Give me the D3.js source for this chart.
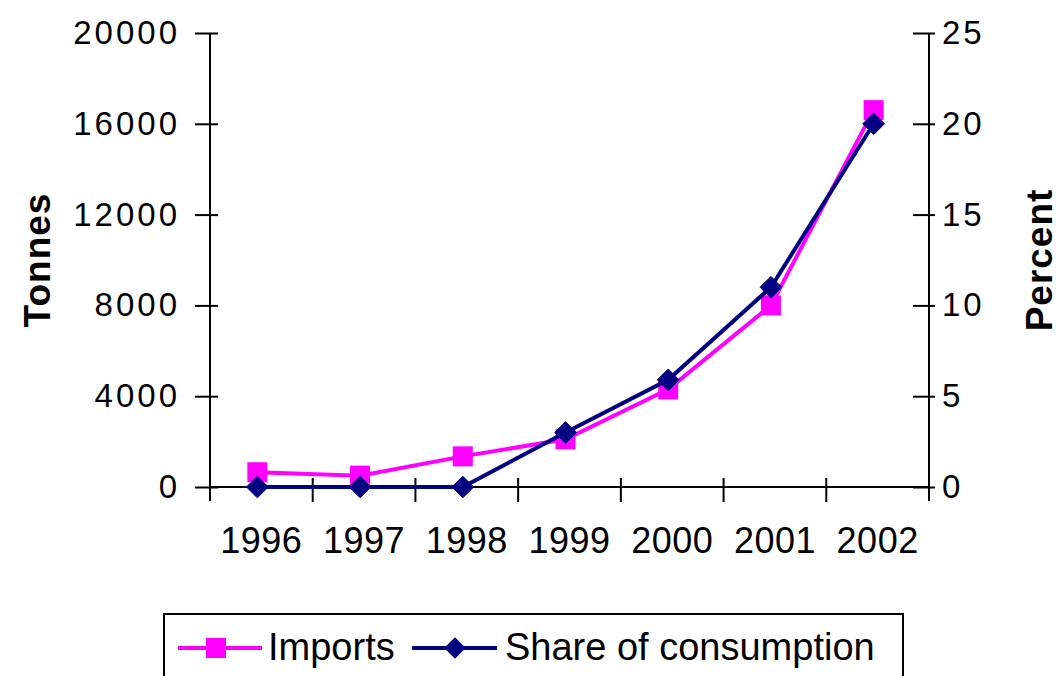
<!DOCTYPE html>
<html>
<head>
<meta charset="utf-8">
<script src="https://cdn.jsdelivr.net/npm/d3@7"></script>
<style>
  body { margin: 0; background: #fff; }
  svg text { font-family: "Liberation Sans", Arial, sans-serif; fill: #000; }
  .axis .tick text { font-size: 33px; letter-spacing: 3px; }
  .axis-title { font-size: 37px; font-weight: bold; letter-spacing: 1px; }
  .legend text { font-size: 38px; }
</style>
</head>
<body>
<svg id="chart" width="1059" height="676"></svg>
<script>
var years = ['1996', '1997', '1998', '1999', '2000', '2001', '2002'];
var imports = [650, 500, 1350, 2100, 4300, 8000, 16600];
var shareOfConsumption = [0, 0, 0, 3.0, 5.9, 11.0, 20.0];
var tonnesTicks = [0, 4000, 8000, 12000, 16000, 20000];
var percentTicks = [0, 5, 10, 15, 20, 25];

var plot = { left: 210, right: 929, top: 33, bottom: 487 };

var svg = d3.select('#chart');

var x = d3.scaleBand().domain(years).range([plot.left, plot.right]);
var yLeft = d3.scaleLinear().domain([0, 20000]).range([plot.bottom, plot.top]);
var yRight = d3.scaleLinear().domain([0, 25]).range([plot.bottom, plot.top]);

// Left axis, ticks cross the line
var leftAxis = svg.append('g')
  .attr('class', 'axis')
  .attr('transform', 'translate(' + plot.left + ',0)')
  .call(d3.axisLeft(yLeft).tickValues(tonnesTicks).tickSize(15).tickPadding(15).tickFormat(d3.format('d')));

// Right axis
var rightAxis = svg.append('g')
  .attr('class', 'axis')
  .attr('transform', 'translate(' + plot.right + ',0)')
  .call(d3.axisRight(yRight).tickValues(percentTicks).tickSize(6));

leftAxis.selectAll('.tick line').attr('x1', 8).attr('x2', -15);
rightAxis.selectAll('.tick line').attr('x1', -16).attr('x2', 6);
rightAxis.selectAll('.tick text').attr('x', 13);

svg.selectAll('.axis .domain').remove();
svg.selectAll('.axis line').attr('stroke', '#000').attr('stroke-width', 2);

// Vertical axis lines run a bit past the baseline
[plot.left, plot.right].forEach(function(px) {
  svg.append('line')
    .attr('x1', px).attr('x2', px)
    .attr('y1', plot.top).attr('y2', plot.bottom + 14)
    .attr('stroke', '#000').attr('stroke-width', 2);
});

// Bottom axis: line + ticks at category boundaries
var bottom = svg.append('g').attr('class', 'x-axis');
bottom.append('line')
  .attr('x1', plot.left).attr('x2', plot.right)
  .attr('y1', yLeft(0)).attr('y2', yLeft(0))
  .attr('stroke', '#000').attr('stroke-width', 2);

var boundaries = years.map(function(d) { return x(d); });
bottom.selectAll('line.boundary')
  .data(boundaries.slice(1))
  .enter().append('line')
  .attr('class', 'boundary')
  .attr('x1', function(d) { return d; }).attr('x2', function(d) { return d; })
  .attr('y1', yLeft(0) - 9).attr('y2', yLeft(0) + 15)
  .attr('stroke', '#000').attr('stroke-width', 2);

bottom.selectAll('text')
  .data(years)
  .enter().append('text')
  .attr('x', function(d) { return x(d) + x.bandwidth() / 2; })
  .attr('y', 553)
  .attr('text-anchor', 'middle')
  .style('font-size', '36px')
  .style('letter-spacing', '0.5px')
  .text(function(d) { return d; });

// Axis titles
svg.append('text')
  .attr('class', 'axis-title')
  .attr('transform', 'translate(50,260) rotate(-90)')
  .attr('text-anchor', 'middle')
  .text('Tonnes');
svg.append('text')
  .attr('class', 'axis-title')
  .attr('transform', 'translate(1052,260) rotate(-90)')
  .attr('text-anchor', 'middle')
  .text('Percent');

// Series lines
var cx = function(i) { return x(years[i]) + x.bandwidth() / 2 - 4; };

var importsLine = d3.line()
  .x(function(d, i) { return cx(i); })
  .y(function(d) { return yLeft(d); });
var shareLine = d3.line()
  .x(function(d, i) { return cx(i); })
  .y(function(d) { return yRight(d); });

svg.append('path')
  .datum(imports)
  .attr('d', importsLine)
  .attr('fill', 'none')
  .attr('stroke', '#ff00ff')
  .attr('stroke-width', 4);

svg.selectAll('rect.imports')
  .data(imports)
  .enter().append('rect')
  .attr('class', 'imports')
  .attr('x', function(d, i) { return cx(i) - 10; })
  .attr('y', function(d) { return yLeft(d) - 10; })
  .attr('width', 20).attr('height', 20)
  .attr('fill', '#ff00ff');

svg.append('path')
  .datum(shareOfConsumption)
  .attr('d', shareLine)
  .attr('fill', 'none')
  .attr('stroke', '#000080')
  .attr('stroke-width', 4);

var diamond = d3.symbol().type(d3.symbolDiamond2).size(300);
svg.selectAll('path.share')
  .data(shareOfConsumption)
  .enter().append('path')
  .attr('class', 'share')
  .attr('d', diamond)
  .attr('transform', function(d, i) { return 'translate(' + cx(i) + ',' + yRight(d) + ')'; })
  .attr('fill', '#000080')
  .attr('stroke', '#000080')
  .attr('stroke-width', 1)
  .attr('stroke-linejoin', 'round');

// Legend
var legend = svg.append('g').attr('class', 'legend');
legend.append('rect')
  .attr('x', 164).attr('y', 614)
  .attr('width', 739).attr('height', 80)
  .attr('fill', '#fff').attr('stroke', '#000').attr('stroke-width', 2);

legend.append('line')
  .attr('x1', 178).attr('x2', 262).attr('y1', 648).attr('y2', 648)
  .attr('stroke', '#ff00ff').attr('stroke-width', 4);
legend.append('rect')
  .attr('x', 206).attr('y', 638).attr('width', 20).attr('height', 20)
  .attr('fill', '#ff00ff');
legend.append('text').attr('x', 268).attr('y', 660).text('Imports');

legend.append('line')
  .attr('x1', 412).attr('x2', 497).attr('y1', 648).attr('y2', 648)
  .attr('stroke', '#000080').attr('stroke-width', 4);
legend.append('path')
  .attr('d', diamond)
  .attr('transform', 'translate(455,648)')
  .attr('fill', '#000080');
legend.append('text').attr('x', 505).attr('y', 660).text('Share of consumption');
</script>
</body>
</html>
